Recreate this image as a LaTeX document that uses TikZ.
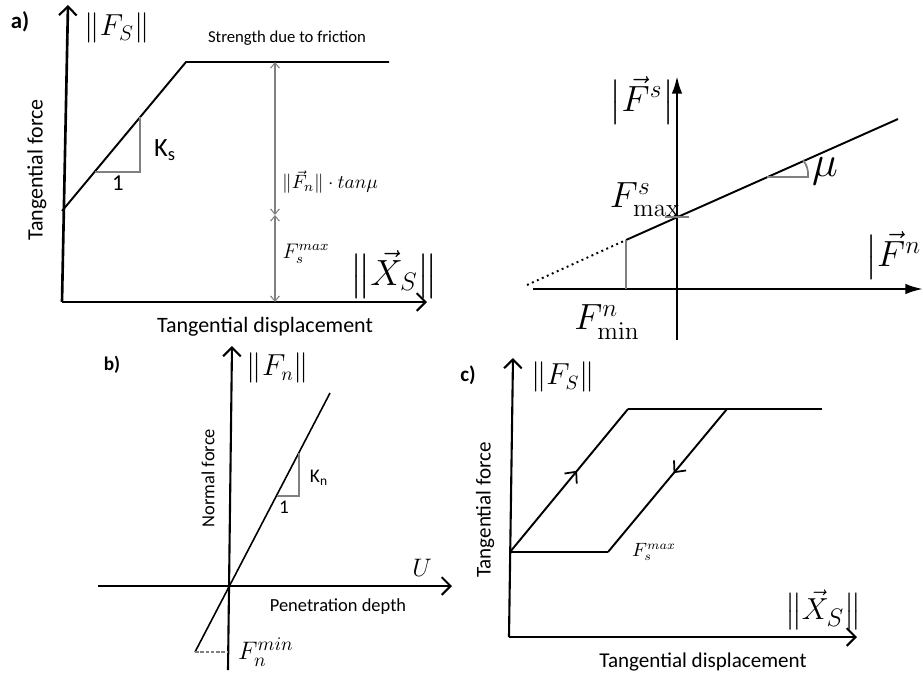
\documentclass[tikz,border=0pt]{standalone}
\usepackage{amsmath}
\usepackage[no-math]{fontspec}
\setmainfont{Carlito}
\usetikzlibrary{arrows.meta,decorations.markings}

\tikzset{
  axis/.style={line width=1.5pt, -{Straight Barb[length=5pt,width=10pt,line width=1.2pt]}},
  faxis/.style={line width=1.4pt, -{Latex[length=10pt,width=6pt]}},
  curve/.style={line width=1.1pt},
  guide/.style={draw=gray, line width=0.6pt},
  dimarrow/.style={guide, {Straight Barb[length=3pt,width=5pt]}-{Straight Barb[length=3pt,width=5pt]}},
  midarrow/.style={curve, postaction={decorate}, decoration={markings,
      mark=at position #1 with {\arrow{Straight Barb[length=5pt,width=9pt,line width=1pt]}}}},
  panel/.style={font=\fontsize{13}{13}\selectfont\bfseries},
  caption/.style={font=\fontsize{12.5}{12.5}\selectfont},
  smallcap/.style={font=\fontsize{10.5}{10.5}\selectfont},
}

\begin{document}
\begin{tikzpicture}[x=0.02cm, y=-0.02cm]
  \useasboundingbox (0,0) rectangle (923,677);

  % ---------- a) tangential law
  \coordinate (aO) at (62,302);
  \coordinate (aYtop) at (68,5);
  \coordinate (aXend) at (427,302);
  \coordinate (aS) at (62,211);
  \coordinate (aK) at (186,62);
  \coordinate (aE) at (389,62);
  \coordinate (aDtop) at (275,62);
  \coordinate (aDmid) at (275,215);
  \coordinate (aDbot) at (275,302);
  \coordinate (aT1) at (95,172);
  \coordinate (aT2) at (140,172);
  \coordinate (aT3) at (140,117);
  \draw[axis] (aO) -- (aYtop);
  \draw[axis] (aO) -- (aXend);
  \draw[curve] (aS) -- (aK) -- (aE);
  \draw[guide] (aT1) -- (aT2) -- (aT3);
  \draw[dimarrow] (aDtop) -- (aDmid);
  \draw[dimarrow] (aDmid) -- (aDbot);
  \node[panel] (alabel) at (20,22) {a)};
  \node[font=\fontsize{18}{18}\selectfont] (aFs) at (117,28) {$\|F_S\|$};
  \node[font=\fontsize{9.5}{9.5}\selectfont] (afric) at (287,38) {Strength due to friction};
  \node[font=\fontsize{15}{15}\selectfont] (aKs) at (165,150) {K\textsubscript{s}};
  \node[font=\fontsize{13}{13}\selectfont] (aone) at (118,183) {1};
  \node[font=\fontsize{11}{11}\selectfont, anchor=west] (atan) at (276,182) {$\|\vec{F}_n\|\cdot tan\mu$};
  \node[font=\fontsize{12}{12}\selectfont] (afmax) at (306,254) {$F_s^{max}$};
  \node[font=\fontsize{20}{20}\selectfont] (aXs) at (394,274) {$\bigl\|\vec{X}_S\bigr\|$};
  \node[caption, rotate=90] (aforce) at (37,170) {Tangential force};
  \node[caption] (adisp) at (265,327) {Tangential displacement};

  % ---------- Mohr-Coulomb criterion
  \coordinate (mYbot) at (677,340);
  \coordinate (mYtop) at (677,76);
  \coordinate (mXbot) at (533,289);
  \coordinate (mXend) at (923,289);
  \coordinate (mP) at (626,240);
  \coordinate (mQ) at (898,119);
  \coordinate (mD) at (527,285);
  \coordinate (mPx) at (626,289);
  \coordinate (mTl) at (665,217);
  \coordinate (mTr) at (689,217);
  \coordinate (mA1) at (767,177);
  \coordinate (mA2) at (808,177);
  \coordinate (mA3) at (803,160);
  \draw[faxis] (mYbot) -- (mYtop);
  \draw[faxis] (mXbot) -- (mXend);
  \draw[curve] (mP) -- (mQ);
  \draw[line width=1.1pt, dotted] (mD) -- (mP);
  \draw[guide, line width=1pt] (mP) -- (mPx);
  \draw[guide, line width=1pt] (mTl) -- (mTr);
  \draw[guide, line width=1pt] (mA1) -- (mA2) to[bend right=20] (mA3);
  \node[font=\fontsize{22}{22}\selectfont] (mFs) at (642,100) {$\bigl|\vec{F}^s\bigr|$};
  \node[font=\fontsize{21}{21}\selectfont] (mFmax) at (645,200) {$F^s_{\max}$};
  \node[font=\fontsize{21}{21}\selectfont] (mFmin) at (607,322) {$F^n_{\min}$};
  \node[font=\fontsize{22}{22}\selectfont] (mFn) at (893,255) {$\bigl|\vec{F}^n$};
  \node[font=\fontsize{24}{24}\selectfont] (mmu) at (825,171) {$\mu$};

  % ---------- b) normal law
  \coordinate (bYbot) at (228,670);
  \coordinate (bYtop) at (232,346);
  \coordinate (bXbot) at (98,586);
  \coordinate (bXend) at (452,586);
  \coordinate (bL) at (195,652);
  \coordinate (bU) at (330,393);
  \coordinate (bLy) at (228,652);
  \coordinate (bT1) at (277,496);
  \coordinate (bT2) at (299,496);
  \coordinate (bT3) at (299,453);
  \draw[axis, line width=1.2pt] (bYbot) -- (bYtop);
  \draw[axis, line width=1.2pt] (bXbot) -- (bXend);
  \draw[curve, line width=0.9pt] (bL) -- (bU);
  \draw[guide, dashed, dash pattern=on 2pt off 1pt] (bL) -- (bLy);
  \draw[guide] (bT1) -- (bT2) -- (bT3);
  \node[panel, font=\fontsize{11}{11}\selectfont\bfseries] (blabel) at (112,365) {b)};
  \node[font=\fontsize{16}{16}\selectfont] (bFn) at (278,368) {$\|F_n\|$};
  \node[font=\fontsize{11}{11}\selectfont] (bKn) at (319,478) {K\textsubscript{n}};
  \node[font=\fontsize{11}{11}\selectfont] (bone) at (284,507) {1};
  \node[font=\fontsize{15}{15}\selectfont, anchor=west] (bFmin) at (232,652) {$F_n^{min}$};
  \node[font=\fontsize{15}{15}\selectfont] (bUlabel) at (422,568) {$U$};
  \node[smallcap] (bdepth) at (338,607) {Penetration depth};
  \node[smallcap, rotate=90] (bforce) at (208,478) {Normal force};

  % ---------- c) loading / unloading
  \coordinate (cO) at (509,637);
  \coordinate (cYtop) at (513,358);
  \coordinate (cXend) at (857,637);
  \coordinate (cS) at (510,552);
  \coordinate (cA) at (628,409);
  \coordinate (cE) at (822,409);
  \coordinate (cB) at (727,409);
  \coordinate (cC) at (608,552);
  \draw[axis, line width=1.2pt] (cO) -- (cYtop);
  \draw[axis, line width=1.2pt] (cO) -- (cXend);
  \draw[midarrow=0.57] (cS) -- (cA);
  \draw[curve] (cA) -- (cE);
  \draw[midarrow=0.45] (cB) -- (cC);
  \draw[curve] (cC) -- (cS);
  \node[panel, font=\fontsize{12}{12}\selectfont\bfseries] (clabel) at (468,375) {c)};
  \node[font=\fontsize{16}{16}\selectfont] (cFs) at (563,377) {$\|F_S\|$};
  \node[font=\fontsize{10.5}{10.5}\selectfont] (cfmax) at (654,552) {$F_s^{max}$};
  \node[font=\fontsize{19}{19}\selectfont] (cXs) at (823,610) {$\bigl\|\vec{X}_S\bigr\|$};
  \node[caption, font=\fontsize{12}{12}\selectfont, rotate=90] (cforce) at (485,510) {Tangential force};
  \node[caption, font=\fontsize{12}{12}\selectfont] (cdisp) at (703,662) {Tangential displacement};
\end{tikzpicture}
\end{document}
